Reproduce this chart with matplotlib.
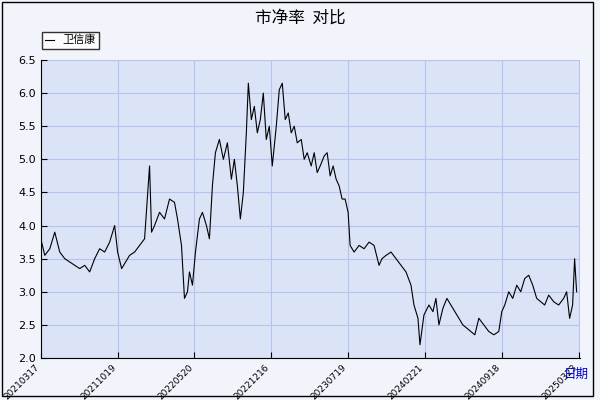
import matplotlib.pyplot as plt
import matplotlib.patches as patches

plt.rcParams['font.family'] = ['Noto Sans CJK SC', 'DejaVu Sans']

# trading-day index and PB value
day = [0, 8, 18, 28, 38, 48, 58, 68, 78, 88, 98, 108, 118, 128, 138, 148, 154, 162, 170, 178,
       188, 198, 208, 218, 222, 228, 238, 248, 258, 268, 274, 282, 288, 294, 298, 304, 310, 318,
       324, 332, 338, 344, 350, 358, 366, 374, 382, 388, 394, 400, 406, 412, 416, 422, 428, 434,
       440, 446, 452, 458, 464, 472, 478, 484, 490, 496, 502, 508, 514, 522, 528, 534, 542, 548,
       554, 560, 568, 574, 580, 586, 592, 598, 604, 610, 616, 620, 628, 638, 648, 658, 668, 678,
       684, 692, 702, 712, 722, 732, 742, 748, 756, 760, 768, 778, 786, 792, 798, 806, 814, 822,
       830, 838, 846, 854, 862, 870, 878, 888, 898, 908, 918, 924, 930, 938, 946, 954, 962, 970,
       978, 986, 994, 1002, 1010, 1018, 1028, 1038, 1048, 1054, 1060, 1066, 1070, 1074]
pb = [3.8, 3.55, 3.65, 3.9, 3.6, 3.5, 3.45, 3.4, 3.35, 3.4, 3.3, 3.5, 3.65, 3.6, 3.75, 4.0, 3.6, 3.35,
      3.45, 3.55, 3.6, 3.7, 3.8, 4.9, 3.9, 4.0, 4.2, 4.1, 4.4, 4.35, 4.1, 3.7, 2.9, 3.0, 3.3, 3.1,
      3.6, 4.1, 4.2, 4.0, 3.8, 4.6, 5.1, 5.3, 5.0, 5.25, 4.7, 5.0, 4.6, 4.1, 4.5, 5.4, 6.15, 5.6,
      5.8, 5.4, 5.6, 6.0, 5.3, 5.5, 4.9, 5.5, 6.05, 6.15, 5.6, 5.7, 5.4, 5.5, 5.25, 5.3, 5.0, 5.1,
      4.9, 5.1, 4.8, 4.9, 5.05, 5.1, 4.75, 4.9, 4.7, 4.6, 4.4, 4.4, 4.2, 3.7, 3.6, 3.7, 3.65, 3.75,
      3.7, 3.4, 3.5, 3.55, 3.6, 3.5, 3.4, 3.3, 3.1, 2.8, 2.6, 2.2, 2.65, 2.8, 2.7, 2.9, 2.5, 2.75,
      2.9, 2.8, 2.7, 2.6, 2.5, 2.45, 2.4, 2.35, 2.6, 2.5, 2.4, 2.35, 2.4, 2.7, 2.8, 3.0, 2.9, 3.1,
      3.0, 3.2, 3.25, 3.1, 2.9, 2.85, 2.8, 2.95, 2.85, 2.8, 2.9, 3.0, 2.6, 2.8, 3.5, 3.0]
tick_pos = [0, 154, 308, 462, 616, 770, 924, 1078]
tick_labels = ['20210317', '20211019', '20220520', '20221216', '20230719', '20240221', '20240918', '20250323']

fig = plt.figure(figsize=(6, 4), dpi=100)
fig.patch.set_facecolor('#f2f4fc')
fig.patches.append(patches.Rectangle((0.003, 0.01), 0.985, 0.985, transform=fig.transFigure,
                                     fill=False, edgecolor='black', lw=1))
ax = fig.add_axes([0.068, 0.105, 0.898, 0.745])
ax.set_facecolor('#dbe3f7')
ax.plot(day, pb, color='black', lw=0.8, label='卫信康')
ax.set_xlim(0, 1080)
ax.set_ylim(2.0, 6.5)
ax.set_yticks([2.0, 2.5, 3.0, 3.5, 4.0, 4.5, 5.0, 5.5, 6.0, 6.5])
ax.set_yticklabels(['2.0', '2.5', '3.0', '3.5', '4.0', '4.5', '5.0', '5.5', '6.0', '6.5'],
                   fontsize=8, family='DejaVu Sans')
ax.set_xticks(tick_pos)
ax.set_xticklabels(tick_labels, rotation=45, fontsize=6.5, ha='right', family='DejaVu Sans')
ax.grid(True, color='#b4c4ec', lw=0.8)
for s in ['top', 'right']:
    ax.spines[s].set_visible(False)
ax.tick_params(direction='in', length=4)
fig.text(0.5, 0.955, '市净率  对比', ha='center', va='center', fontsize=12)
fig.text(0.96, 0.055, '日期', color='#0000cc', fontsize=9, ha='center')
leg = fig.legend(loc='upper left', bbox_to_anchor=(0.06, 0.935), fontsize=8, frameon=True,
                 fancybox=False, edgecolor='black', handlelength=0.8, borderpad=0.3)
leg.get_frame().set_facecolor('white')
fig.savefig('out.png')
